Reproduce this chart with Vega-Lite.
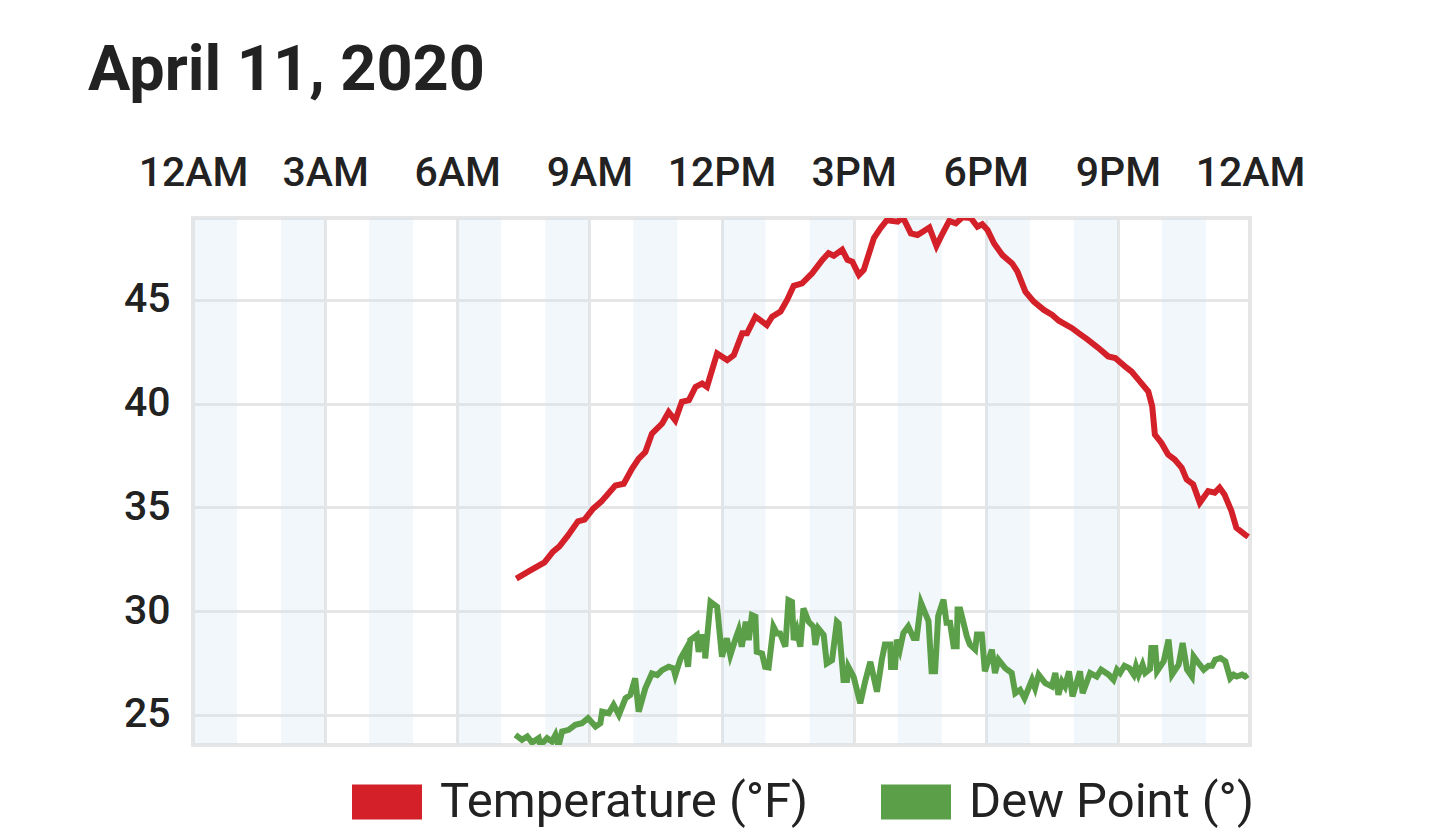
{
  "$schema": "https://vega.github.io/schema/vega-lite/v6.json",
  "width": 1057,
  "height": 527,
  "autosize": {"type": "none"},
  "padding": {"left": 193, "top": 218, "right": 190, "bottom": 85},
  "background": "white",
  "title": {
    "text": "April 11, 2020",
    "anchor": "start",
    "frame": "group",
    "dx": -105,
    "offset": 49,
    "font": "Roboto",
    "fontSize": 63,
    "fontWeight": "bold",
    "color": "#222222"
  },
  "config": {
    "view": {"stroke": "#e6e6e6", "strokeWidth": 4},
    "axis": {
      "domain": false,
      "ticks": false,
      "title": null,
      "labelFont": "Roboto",
      "labelFontSize": 41,
      "labelFontWeight": 500,
      "labelColor": "#222222",
      "gridColor": "#e6e6e6",
      "gridWidth": 3,
      "gridOpacity": 1
    },
    "legend": {
      "labelFont": "Roboto",
      "labelFontSize": 49,
      "labelColor": "#222222",
      "labelLimit": 600
    }
  },
  "datasets": {
    "bands": [
      {"a": 0, "b": 1}, {"a": 2, "b": 3}, {"a": 4, "b": 5}, {"a": 6, "b": 7},
      {"a": 8, "b": 9}, {"a": 10, "b": 11}, {"a": 12, "b": 13}, {"a": 14, "b": 15},
      {"a": 16, "b": 17}, {"a": 18, "b": 19}, {"a": 20, "b": 21}, {"a": 22, "b": 23}
    ],
    "temp": [
      {"h": 7.34, "v": 31.57}, {"h": 7.65, "v": 31.95}, {"h": 7.98, "v": 32.35}, {"h": 8.17, "v": 32.86},
      {"h": 8.32, "v": 33.12}, {"h": 8.51, "v": 33.64}, {"h": 8.74, "v": 34.33}, {"h": 8.89, "v": 34.41},
      {"h": 9.08, "v": 34.93}, {"h": 9.27, "v": 35.28}, {"h": 9.59, "v": 36.06}, {"h": 9.78, "v": 36.14},
      {"h": 9.97, "v": 36.87}, {"h": 10.12, "v": 37.35}, {"h": 10.27, "v": 37.67}, {"h": 10.42, "v": 38.56},
      {"h": 10.65, "v": 39.04}, {"h": 10.8, "v": 39.6}, {"h": 10.95, "v": 39.2}, {"h": 11.1, "v": 40.09},
      {"h": 11.26, "v": 40.17}, {"h": 11.41, "v": 40.81}, {"h": 11.56, "v": 40.97}, {"h": 11.67, "v": 40.81},
      {"h": 11.9, "v": 42.42}, {"h": 12.13, "v": 42.1}, {"h": 12.28, "v": 42.34}, {"h": 12.47, "v": 43.39},
      {"h": 12.58, "v": 43.39}, {"h": 12.77, "v": 44.19}, {"h": 12.88, "v": 44.03}, {"h": 13.03, "v": 43.79},
      {"h": 13.15, "v": 44.19}, {"h": 13.34, "v": 44.44}, {"h": 13.49, "v": 45.0}, {"h": 13.64, "v": 45.68},
      {"h": 13.83, "v": 45.8}, {"h": 14.06, "v": 46.29}, {"h": 14.29, "v": 46.93}, {"h": 14.43, "v": 47.25},
      {"h": 14.55, "v": 47.13}, {"h": 14.74, "v": 47.42}, {"h": 14.86, "v": 46.93}, {"h": 14.97, "v": 46.85},
      {"h": 15.12, "v": 46.21}, {"h": 15.23, "v": 46.45}, {"h": 15.46, "v": 47.98}, {"h": 15.61, "v": 48.46},
      {"h": 15.76, "v": 48.86}, {"h": 15.85, "v": 48.81}, {"h": 16.0, "v": 48.77}, {"h": 16.12, "v": 48.98},
      {"h": 16.3, "v": 48.21}, {"h": 16.45, "v": 48.13}, {"h": 16.57, "v": 48.29}, {"h": 16.72, "v": 48.49},
      {"h": 16.88, "v": 47.6}, {"h": 16.98, "v": 48.04}, {"h": 17.17, "v": 48.81}, {"h": 17.32, "v": 48.69},
      {"h": 17.47, "v": 48.98}, {"h": 17.66, "v": 48.95}, {"h": 17.81, "v": 48.53}, {"h": 17.92, "v": 48.65},
      {"h": 18.04, "v": 48.37}, {"h": 18.19, "v": 47.72}, {"h": 18.38, "v": 47.16}, {"h": 18.6, "v": 46.76},
      {"h": 18.72, "v": 46.36}, {"h": 18.9, "v": 45.4}, {"h": 19.09, "v": 44.92}, {"h": 19.32, "v": 44.52},
      {"h": 19.51, "v": 44.28}, {"h": 19.66, "v": 44.0}, {"h": 19.96, "v": 43.64}, {"h": 20.11, "v": 43.4},
      {"h": 20.3, "v": 43.11}, {"h": 20.56, "v": 42.68}, {"h": 20.78, "v": 42.28}, {"h": 20.94, "v": 42.2},
      {"h": 21.16, "v": 41.8}, {"h": 21.31, "v": 41.55}, {"h": 21.47, "v": 41.15}, {"h": 21.69, "v": 40.59},
      {"h": 21.78, "v": 39.87}, {"h": 21.84, "v": 38.51}, {"h": 21.99, "v": 38.11}, {"h": 22.14, "v": 37.55},
      {"h": 22.29, "v": 37.31}, {"h": 22.45, "v": 36.91}, {"h": 22.56, "v": 36.35}, {"h": 22.71, "v": 36.11},
      {"h": 22.86, "v": 35.22}, {"h": 23.05, "v": 35.79}, {"h": 23.2, "v": 35.71}, {"h": 23.31, "v": 35.95},
      {"h": 23.42, "v": 35.63}, {"h": 23.58, "v": 34.82}, {"h": 23.69, "v": 34.02}, {"h": 23.88, "v": 33.7},
      {"h": 23.96, "v": 33.58}
    ],
    "dew": [
      {"h": 7.32, "v": 24.04}, {"h": 7.47, "v": 23.8}, {"h": 7.59, "v": 23.96}, {"h": 7.7, "v": 23.67},
      {"h": 7.85, "v": 23.88}, {"h": 7.89, "v": 23.55}, {"h": 8.04, "v": 23.88}, {"h": 8.15, "v": 23.72},
      {"h": 8.23, "v": 24.04}, {"h": 8.3, "v": 23.5}, {"h": 8.38, "v": 24.2}, {"h": 8.53, "v": 24.28},
      {"h": 8.68, "v": 24.52}, {"h": 8.83, "v": 24.6}, {"h": 8.97, "v": 24.84}, {"h": 9.14, "v": 24.44},
      {"h": 9.25, "v": 24.6}, {"h": 9.29, "v": 25.16}, {"h": 9.44, "v": 25.08}, {"h": 9.55, "v": 25.48},
      {"h": 9.67, "v": 25.0}, {"h": 9.82, "v": 25.8}, {"h": 9.93, "v": 25.96}, {"h": 10.04, "v": 26.76},
      {"h": 10.12, "v": 25.16}, {"h": 10.27, "v": 26.28}, {"h": 10.42, "v": 27.0}, {"h": 10.54, "v": 26.92},
      {"h": 10.65, "v": 27.16}, {"h": 10.8, "v": 27.32}, {"h": 10.91, "v": 27.24}, {"h": 10.95, "v": 26.92},
      {"h": 11.07, "v": 27.72}, {"h": 11.18, "v": 28.13}, {"h": 11.24, "v": 27.32}, {"h": 11.29, "v": 28.61},
      {"h": 11.44, "v": 28.85}, {"h": 11.48, "v": 28.04}, {"h": 11.56, "v": 28.77}, {"h": 11.62, "v": 28.8},
      {"h": 11.63, "v": 27.72}, {"h": 11.75, "v": 30.45}, {"h": 11.9, "v": 30.21}, {"h": 12.01, "v": 27.8},
      {"h": 12.12, "v": 28.69}, {"h": 12.2, "v": 27.88}, {"h": 12.31, "v": 28.61}, {"h": 12.39, "v": 29.09},
      {"h": 12.46, "v": 28.29}, {"h": 12.55, "v": 29.49}, {"h": 12.62, "v": 28.61}, {"h": 12.69, "v": 29.81},
      {"h": 12.77, "v": 29.73}, {"h": 12.8, "v": 28.04}, {"h": 12.92, "v": 27.96}, {"h": 12.99, "v": 27.32},
      {"h": 13.07, "v": 27.29}, {"h": 13.18, "v": 29.25}, {"h": 13.26, "v": 28.93}, {"h": 13.33, "v": 28.93},
      {"h": 13.45, "v": 28.29}, {"h": 13.52, "v": 30.53}, {"h": 13.6, "v": 30.45}, {"h": 13.64, "v": 28.61},
      {"h": 13.71, "v": 29.09}, {"h": 13.79, "v": 28.29}, {"h": 13.86, "v": 30.13}, {"h": 13.98, "v": 29.49},
      {"h": 14.09, "v": 29.25}, {"h": 14.13, "v": 28.37}, {"h": 14.2, "v": 29.17}, {"h": 14.32, "v": 28.85},
      {"h": 14.39, "v": 27.48}, {"h": 14.51, "v": 27.64}, {"h": 14.62, "v": 29.49}, {"h": 14.66, "v": 29.41},
      {"h": 14.77, "v": 26.68}, {"h": 14.85, "v": 26.68}, {"h": 14.88, "v": 27.32}, {"h": 15.0, "v": 26.84},
      {"h": 15.15, "v": 25.56}, {"h": 15.26, "v": 26.6}, {"h": 15.38, "v": 27.56}, {"h": 15.53, "v": 26.12},
      {"h": 15.64, "v": 27.66}, {"h": 15.71, "v": 28.39}, {"h": 15.83, "v": 28.39}, {"h": 15.85, "v": 27.31},
      {"h": 15.94, "v": 27.31}, {"h": 15.98, "v": 28.63}, {"h": 16.05, "v": 28.15}, {"h": 16.13, "v": 28.95},
      {"h": 16.24, "v": 29.27}, {"h": 16.36, "v": 28.71}, {"h": 16.43, "v": 28.71}, {"h": 16.53, "v": 30.4},
      {"h": 16.7, "v": 29.52}, {"h": 16.77, "v": 27.1}, {"h": 16.85, "v": 27.1}, {"h": 16.92, "v": 29.76},
      {"h": 17.04, "v": 30.56}, {"h": 17.11, "v": 29.44}, {"h": 17.19, "v": 29.44}, {"h": 17.27, "v": 28.31},
      {"h": 17.34, "v": 28.31}, {"h": 17.36, "v": 30.08}, {"h": 17.42, "v": 30.08}, {"h": 17.57, "v": 28.79},
      {"h": 17.64, "v": 28.39}, {"h": 17.76, "v": 28.15}, {"h": 17.8, "v": 28.87}, {"h": 17.91, "v": 28.87},
      {"h": 17.98, "v": 27.1}, {"h": 18.14, "v": 28.15}, {"h": 18.21, "v": 27.02}, {"h": 18.29, "v": 27.66},
      {"h": 18.44, "v": 27.26}, {"h": 18.59, "v": 27.02}, {"h": 18.67, "v": 26.05}, {"h": 18.78, "v": 26.21},
      {"h": 18.88, "v": 25.81}, {"h": 19.05, "v": 26.69}, {"h": 19.12, "v": 26.29}, {"h": 19.2, "v": 26.94},
      {"h": 19.35, "v": 26.53}, {"h": 19.5, "v": 26.37}, {"h": 19.58, "v": 27.02}, {"h": 19.65, "v": 25.97},
      {"h": 19.73, "v": 26.61}, {"h": 19.8, "v": 26.37}, {"h": 19.89, "v": 27.1}, {"h": 19.97, "v": 25.89},
      {"h": 20.14, "v": 27.1}, {"h": 20.2, "v": 26.05}, {"h": 20.37, "v": 27.02}, {"h": 20.52, "v": 26.85},
      {"h": 20.62, "v": 27.18}, {"h": 20.79, "v": 26.94}, {"h": 20.9, "v": 26.69}, {"h": 20.98, "v": 27.18},
      {"h": 21.05, "v": 27.02}, {"h": 21.15, "v": 27.37}, {"h": 21.26, "v": 27.26}, {"h": 21.36, "v": 26.94},
      {"h": 21.41, "v": 27.34}, {"h": 21.47, "v": 26.94}, {"h": 21.56, "v": 27.42}, {"h": 21.62, "v": 27.02},
      {"h": 21.73, "v": 27.21}, {"h": 21.76, "v": 28.23}, {"h": 21.85, "v": 28.23}, {"h": 21.89, "v": 27.1},
      {"h": 22.04, "v": 27.58}, {"h": 22.15, "v": 28.63}, {"h": 22.23, "v": 26.94}, {"h": 22.38, "v": 27.42},
      {"h": 22.47, "v": 28.47}, {"h": 22.57, "v": 27.18}, {"h": 22.68, "v": 26.85}, {"h": 22.72, "v": 27.82},
      {"h": 22.83, "v": 27.5}, {"h": 22.95, "v": 27.18}, {"h": 23.06, "v": 27.37}, {"h": 23.14, "v": 27.37},
      {"h": 23.21, "v": 27.66}, {"h": 23.33, "v": 27.74}, {"h": 23.44, "v": 27.58}, {"h": 23.55, "v": 26.77},
      {"h": 23.63, "v": 26.94}, {"h": 23.7, "v": 26.85}, {"h": 23.82, "v": 26.94}, {"h": 23.89, "v": 26.85},
      {"h": 23.95, "v": 26.94}
    ]
  },
  "encoding": {
    "x": {
      "field": "h",
      "type": "quantitative",
      "scale": {"domain": [0, 24], "nice": false, "zero": false},
      "axis": {
        "orient": "top",
        "values": [0, 3, 6, 9, 12, 15, 18, 21, 24],
        "labelExpr": "datum.value % 12 == 0 ? (datum.value == 12 ? '12PM' : '12AM') : (datum.value < 12 ? datum.value + 'AM' : (datum.value - 12) + 'PM')",
        "labelFlush": false,
        "labelPadding": 24
      }
    }
  },
  "layer": [
    {
      "data": {"name": "bands"},
      "mark": {"type": "rect", "color": "#cfe1f1", "opacity": 0.28},
      "encoding": {
        "x": {"field": "a", "type": "quantitative"},
        "x2": {"field": "b"}
      }
    },
    {
      "data": {"name": "temp"},
      "mark": {"type": "line", "strokeWidth": 6, "clip": true},
      "encoding": {
        "y": {
          "field": "v",
          "type": "quantitative",
          "scale": {"domain": [23.55, 48.95], "nice": false, "zero": false},
          "axis": {"values": [25, 30, 35, 40, 45], "labelPadding": 23}
        },
        "color": {
          "datum": "Temperature (°F)",
          "type": "nominal",
          "scale": {"domain": ["Temperature (°F)", "Dew Point (°)"], "range": ["#d42029", "#5b9f48"]},
          "legend": {
            "title": null,
            "orient": "none",
            "legendX": 159,
            "legendY": 549,
            "direction": "horizontal",
            "symbolType": "M-1,-0.5H1V0.5H-1Z",
            "symbolSize": 4900,
            "symbolStrokeWidth": 0,
            "labelOffset": 18,
            "columnPadding": 72,
            "encode": {
              "symbols": {"update": {"fill": {"scale": "color", "field": "value"}, "strokeWidth": {"value": 0}, "opacity": {"value": 1}}}
            }
          }
        }
      }
    },
    {
      "data": {"name": "dew"},
      "mark": {"type": "line", "strokeWidth": 6, "clip": true},
      "encoding": {
        "y": {"field": "v", "type": "quantitative"},
        "color": {"datum": "Dew Point (°)", "type": "nominal"}
      }
    }
  ]
}
